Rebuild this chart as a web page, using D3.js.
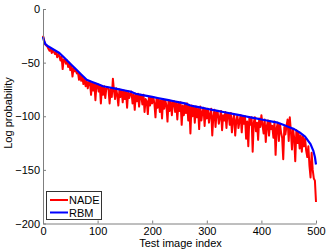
<!DOCTYPE html>
<html>
<head>
<meta charset="utf-8">
<script src="https://cdn.jsdelivr.net/npm/d3@7"></script>
<style>
  body { margin: 0; background: #fff; }
  text { font-family: "Liberation Sans", Arial, sans-serif; fill: #000; }
</style>
</head>
<body>
<div id="chart"></div>
<script>
// RBM log probability (smooth curve), read at a few indices
const rbmIndex = [0, 2, 5, 10, 20, 30, 40, 50, 60, 70, 80, 90, 100, 110, 120, 130, 140, 150, 160, 170, 180, 190, 200,
  210, 220, 230, 240, 250, 260, 270, 280, 290, 300, 310, 320, 330, 340, 350, 360, 370, 380, 390, 400,
  410, 420, 430, 440, 450, 460, 470, 480, 490, 495, 498, 500];
const rbmValues = [-26, -30, -33, -35, -38, -41, -46, -51, -56, -61, -66, -68, -70, -72, -73, -74, -75, -76, -77, -79, -80, -81, -82,
  -83, -84, -85, -86, -87, -88, -90, -91, -92, -93, -94, -95, -96, -97, -98, -99, -100, -101, -102, -103,
  -104, -105, -106, -108, -110, -112, -115, -119, -126, -132, -138, -145];

// NADE log probability, read every second test image
const nadeValues = [
  -25, -29, -33, -34, -35, -37, -39, -37, -41, -39,
  -40, -42, -40, -45, -42, -44, -48, -44, -56, -47,
  -47, -51, -48, -54, -50, -57, -53, -63, -55, -58,
  -57, -60, -59, -66, -61, -67, -63, -70, -65, -72,
  -67, -74, -68, -68, -80, -69, -76, -69, -85, -70,
  -70, -77, -71, -88, -72, -80, -72, -83, -74, -73,
  -75, -88, -74, -82, -65, -76, -84, -74, -80, -90,
  -75, -82, -76, -87, -76, -84, -77, -92, -77, -83,
  -79, -77, -88, -80, -94, -79, -86, -79, -91, -80,
  -81, -89, -80, -96, -84, -86, -98, -82, -90, -82,
  -88, -82, -88, -101, -83, -92, -84, -96, -85, -102,
  -84, -93, -85, -90, -105, -85, -95, -86, -99, -87,
  -86, -96, -87, -103, -88, -95, -87, -108, -90, -99,
  -89, -97, -88, -104, -90, -116, -90, -100, -91, -106,
  -91, -101, -93, -112, -91, -104, -96, -92, -109, -93,
  -102, -93, -106, -98, -93, -118, -100, -94, -110, -96,
  -96, -107, -101, -95, -113, -99, -104, -96, -111, -97,
  -98, -108, -97, -115, -103, -98, -118, -104, -99, -111,
  -104, -99, -115, -100, -107, -100, -121, -105, -128, -101,
  -108, -101, -133, -106, -101, -114, -106, -122, -102, -110,
  -99, -108, -116, -103, -124, -109, -104, -118, -105, -112,
  -109, -120, -105, -136, -111, -106, -123, -107, -115, -120,
  -140, -110, -117, -109, -103, -123, -101, -114, -131, -112,
  -120, -142, -113, -125, -115, -130, -118, -133, -119, -128,
  -121, -132, -138, -128, -146, -157, -134, -150, -158, -160,
  -180];
const nadeIndex = nadeValues.map((v, i) => i * 2);

const xTicks = [0, 100, 200, 300, 400, 500];
const yTicks = [0, -50, -100, -150, -200];

const width = 328, height = 251;
const plotLeft = 43, plotRight = 316, plotTop = 9, plotBottom = 223.5;

const svg = d3.select("#chart").append("svg")
  .attr("width", width)
  .attr("height", height);

const x = d3.scaleLinear().domain([0, 500]).range([plotLeft, plotRight]);
const y = d3.scaleLinear().domain([-200, 0]).range([plotBottom, plotTop]);

const line = d3.line()
  .x(d => x(d[0]))
  .y(d => y(d[1]));

svg.append("path")
  .datum(nadeIndex.map((d, i) => [d, nadeValues[i]]))
  .attr("fill", "none")
  .attr("stroke", "#ff0000")
  .attr("stroke-width", 2)
  .attr("stroke-linejoin", "round")
  .attr("d", line);

svg.append("path")
  .datum(rbmIndex.map((d, i) => [d, rbmValues[i]]))
  .attr("fill", "none")
  .attr("stroke", "#0000ff")
  .attr("stroke-width", 2.2)
  .attr("stroke-linejoin", "round")
  .attr("d", line);

// axes, ticks pointing inward
const xAxis = svg.append("g")
  .attr("transform", "translate(0," + plotBottom + ")")
  .call(d3.axisBottom(x).tickValues(xTicks).tickSizeInner(-3).tickSizeOuter(0).tickPadding(4));

const yAxis = svg.append("g")
  .attr("transform", "translate(" + plotLeft + ",0)")
  .call(d3.axisLeft(y).tickValues(yTicks).tickSizeInner(-3).tickSizeOuter(0).tickPadding(3)
    .tickFormat(d => d < 0 ? "\u2212" + Math.abs(d) : d));

[xAxis, yAxis].forEach(g => {
  g.select(".domain").attr("stroke", "#7f7f7f");
  g.selectAll(".tick line").attr("stroke", "#7f7f7f");
  g.selectAll(".tick text")
    .style("font-family", "'Liberation Sans', Arial, sans-serif")
    .style("font-size", "11px")
    .attr("fill", "#000");
});

svg.append("text")
  .attr("x", (plotLeft + plotRight) / 2 + 1)
  .attr("y", 247)
  .attr("text-anchor", "middle")
  .style("font-size", "11px")
  .text("Test image index");

svg.append("text")
  .attr("transform", "translate(12,113) rotate(-90)")
  .attr("text-anchor", "middle")
  .style("font-size", "11px")
  .text("Log probability");

// legend
const legend = svg.append("g");
legend.append("rect")
  .attr("x", 46.5).attr("y", 191.5)
  .attr("width", 55).attr("height", 28)
  .attr("fill", "#fff")
  .attr("stroke", "#333")
  .attr("stroke-width", 1);

const legendItems = [["NADE", "#ff0000"], ["RBM", "#0000ff"]];
legendItems.forEach((d, i) => {
  const ly = 200 + i * 12.5;
  legend.append("line")
    .attr("x1", 50).attr("x2", 68)
    .attr("y1", ly).attr("y2", ly)
    .attr("stroke", d[1])
    .attr("stroke-width", 2);
  legend.append("text")
    .attr("x", 69)
    .attr("y", ly + 4)
    .style("font-size", "11px")
    .text(d[0]);
});
</script>
</body>
</html>
